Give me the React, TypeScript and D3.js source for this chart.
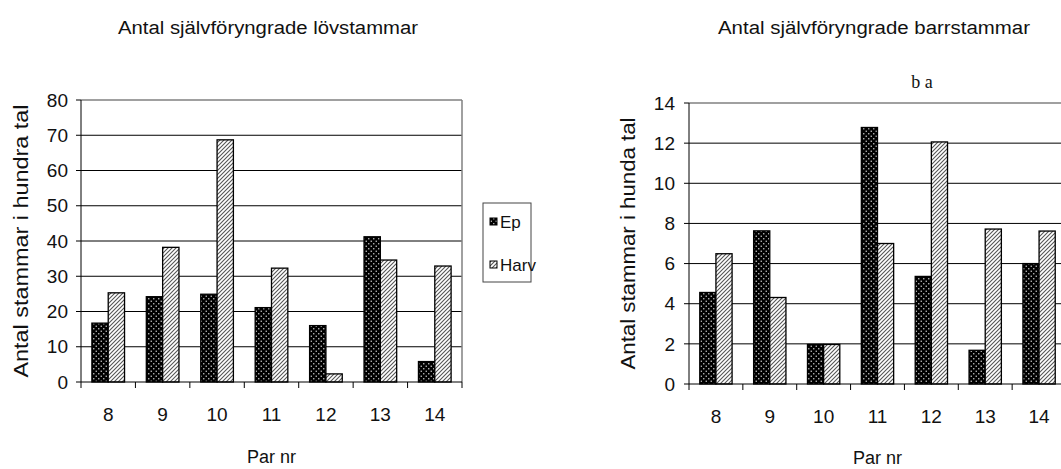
import React from 'react';
import * as d3 from 'd3';

const categories = ['8', '9', '10', '11', '12', '13', '14'];
const seriesNames = ['Ep', 'Harv'];
const lovEp = [16.7, 24.2, 24.9, 21.1, 16.0, 41.2, 5.8];
const lovHarv = [25.3, 38.2, 68.7, 32.3, 2.3, 34.6, 32.9];
const barrEp = [4.56, 7.63, 1.97, 12.78, 5.36, 1.68, 6.0];
const barrHarv = [6.49, 4.31, 1.97, 7.0, 12.06, 7.72, 7.62];
const lovTicks = [0, 10, 20, 30, 40, 50, 60, 70, 80];
const barrTicks = [0, 2, 4, 6, 8, 10, 12, 14];

const FONT = 'Arial, "Liberation Sans", sans-serif';

type ChartProps = {
  x0: number; x1: number; yTop: number; yBottom: number;
  ticks: number[]; ep: number[]; harv: number[];
  title: string; titleX: number; titleLen: number;
  yLabel: string; yLabelX: number; yLabelLen: number;
  tickLabelRight: number; xLabelBase: number; xTitleBase: number;
};

function Chart(p: ChartProps) {
  const max = p.ticks[p.ticks.length - 1];
  const x = d3.scaleBand<string>().domain(categories).range([p.x0, p.x1]).paddingInner(0).paddingOuter(0);
  const y = d3.scaleLinear().domain([0, max]).range([p.yBottom, p.yTop]);
  const bw = x.bandwidth() * 0.3;
  const series = [p.ep, p.harv];
  const fills = ['url(#patEp)', 'url(#patHarv)'];
  const boundaries = categories.map((c) => x(c) as number).concat([p.x1]);
  const midY = (p.yTop + p.yBottom) / 2;
  return (
    <g>
      <text x={p.titleX} y={34} textAnchor="middle" fontFamily={FONT} fontSize={18} fill="#111"
        textLength={p.titleLen} lengthAdjust="spacingAndGlyphs">{p.title}</text>
      {p.ticks.slice(1, -1).map((t) => (
        <line key={'g' + t} x1={p.x0} x2={p.x1} y1={y(t)} y2={y(t)} stroke="#000" strokeWidth={1} />
      ))}
      <line x1={p.x0} x2={p.x1} y1={y(max)} y2={y(max)} stroke="#808080" strokeWidth={1.5} />
      <line x1={p.x1} x2={p.x1} y1={p.yTop} y2={p.yBottom} stroke="#808080" strokeWidth={1.5} />
      {categories.map((c, i) => {
        const cx = (x(c) as number) + x.bandwidth() / 2;
        return series.map((s, k) => (
          <rect key={c + '-' + k} x={cx - bw + k * bw} y={y(s[i])} width={bw} height={p.yBottom - y(s[i])}
            fill={fills[k]} stroke="#000" strokeWidth={1.3} />
        ));
      })}
      <line x1={p.x0} x2={p.x0} y1={p.yTop} y2={p.yBottom} stroke="#000" strokeWidth={1} />
      {p.ticks.map((t) => (
        <g key={'t' + t}>
          <line x1={p.x0 - 5} x2={p.x0} y1={y(t)} y2={y(t)} stroke="#000" strokeWidth={1} />
          <text x={p.tickLabelRight} y={y(t)} dy="0.35em" textAnchor="end" fontFamily={FONT} fontSize={19} fill="#111">{t}</text>
        </g>
      ))}
      <line x1={p.x0} x2={p.x1} y1={p.yBottom} y2={p.yBottom} stroke="#000" strokeWidth={1} />
      {boundaries.map((b, i) => (
        <line key={'b' + i} x1={b} x2={b} y1={p.yBottom} y2={p.yBottom + 6} stroke="#000" strokeWidth={1} />
      ))}
      {categories.map((c) => (
        <text key={'l' + c} x={(x(c) as number) + x.bandwidth() / 2} y={p.xLabelBase} textAnchor="middle"
          fontFamily={FONT} fontSize={19} fill="#111">{c}</text>
      ))}
      <text x={(p.x0 + p.x1) / 2} y={p.xTitleBase} textAnchor="middle" fontFamily={FONT} fontSize={18} fill="#111">Par nr</text>
      <text transform={`translate(${p.yLabelX},${midY}) rotate(-90)`} textAnchor="middle" fontFamily={FONT}
        fontSize={20} fill="#111" textLength={p.yLabelLen} lengthAdjust="spacingAndGlyphs">{p.yLabel}</text>
    </g>
  );
}

export default function App() {
  return (
    <div style={{ position: 'absolute', left: 0, top: 0 }}>
      <svg width={1061} height={469} viewBox="0 0 1061 469" style={{ display: 'block', background: '#fff' }}>
        <defs>
          <pattern id="patEp" patternUnits="userSpaceOnUse" width={5} height={5}>
            <rect width={5} height={5} fill="#000" />
            <rect x={0.6} y={0.6} width={1.3} height={1.3} fill="#d0d0d0" />
            <rect x={3.1} y={3.1} width={1.3} height={1.3} fill="#d0d0d0" />
          </pattern>
          <pattern id="patHarv" patternUnits="userSpaceOnUse" width={4} height={4}>
            <rect width={4} height={4} fill="#fff" />
            <path d="M-1,1 L1,-1 M0,4 L4,0 M3,5 L5,3" stroke="#555" strokeWidth={1.1} />
          </pattern>
        </defs>
        <rect width={1061} height={469} fill="#fff" />
        <Chart x0={81} x1={462} yTop={100} yBottom={382} ticks={lovTicks} ep={lovEp} harv={lovHarv}
          title="Antal självföryngrade lövstammar" titleX={268} titleLen={300}
          yLabel="Antal stammar i hundra tal" yLabelX={28} yLabelLen={273}
          tickLabelRight={68} xLabelBase={421} xTitleBase={463} />
        <Chart x0={689} x1={1066} yTop={103} yBottom={384} ticks={barrTicks} ep={barrEp} harv={barrHarv}
          title="Antal självföryngrade barrstammar" titleX={874} titleLen={312}
          yLabel="Antal stammar i hunda tal" yLabelX={635} yLabelLen={252}
          tickLabelRight={675} xLabelBase={423} xTitleBase={464} />
        <text x={922} y={88} textAnchor="middle" fontFamily='"Liberation Serif", "Times New Roman", serif' fontSize={18} fill="#111">b a</text>
        <rect x={483} y={203} width={48} height={79} fill="#fff" stroke="#444" strokeWidth={1} />
        {seriesNames.map((n, i) => (
          <g key={n}>
            <rect x={490} y={218 + i * 43} width={7} height={7} fill={i === 0 ? 'url(#patEp)' : 'url(#patHarv)'} stroke="#000" strokeWidth={1} />
            <text x={500} y={222 + i * 43} dy="0.35em" fontFamily={FONT} fontSize={17} fill="#111">{n}</text>
          </g>
        ))}
      </svg>
    </div>
  );
}
